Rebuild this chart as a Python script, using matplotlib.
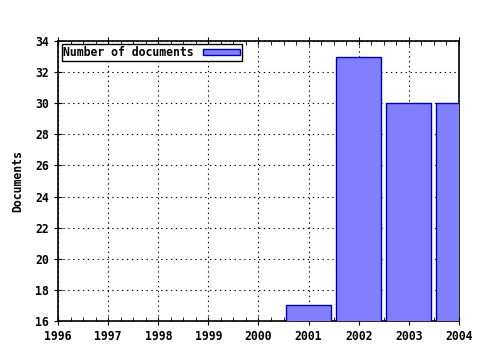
import matplotlib
matplotlib.use('Agg')
import matplotlib.pyplot as plt
from matplotlib.ticker import MultipleLocator

# Data
years = [2001, 2002, 2003, 2004]
documents = [17, 33, 30, 30]
xticks = [1996, 1997, 1998, 1999, 2000, 2001, 2002, 2003, 2004]
yticks = [16, 18, 20, 22, 24, 26, 28, 30, 32, 34]

plt.rcParams['font.family'] = 'DejaVu Sans Mono'
plt.rcParams['font.weight'] = 'bold'

fig = plt.figure(figsize=(4.8, 3.5), dpi=100)
ax = fig.add_axes([0.121, 0.083, 0.835, 0.8])

ax.bar(years, documents, width=0.9, bottom=0, color='#8080ff',
       edgecolor='#0000b0', linewidth=1.0, label='Number of documents', zorder=3)

ax.set_xlim(1996, 2004)
ax.set_ylim(16, 34)
ax.set_xticks(xticks)
ax.set_yticks(yticks)
ax.xaxis.set_minor_locator(MultipleLocator(0.25))
ax.tick_params(axis='both', which='major', direction='inout', length=6,
               labelsize=8.3, top=True)
ax.tick_params(axis='x', which='minor', direction='in', length=3, top=True)
ax.grid(True, which='major', linestyle=(0, (1.2, 3.2)), color='black',
        linewidth=0.8, zorder=1)
ax.set_axisbelow(True)
for s in ax.spines.values():
    s.set_linewidth(1.2)

ax.set_ylabel('Documents', fontsize=8.3, fontweight='bold', labelpad=8)

leg = ax.legend(loc='upper left', fontsize=8.3, markerfirst=False, fancybox=False,
                framealpha=1, edgecolor='black', borderpad=0.15,
                handlelength=3.2, handleheight=0.5, handletextpad=0.8,
                borderaxespad=0.3)
leg.get_frame().set_linewidth(1.0)

plt.savefig('out.png', dpi=100)
